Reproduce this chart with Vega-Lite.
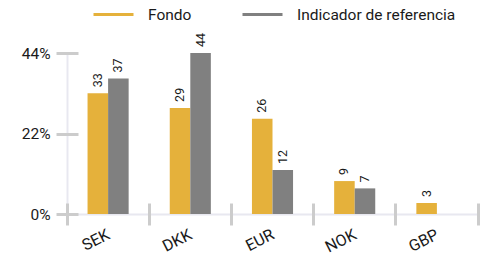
{
  "$schema": "https://vega.github.io/schema/vega-lite/v6.json",
  "width": 411,
  "height": 161,
  "autosize": "none",
  "padding": {"left": 67, "top": 53, "right": 14, "bottom": 41},
  "config": {
    "font": "Roboto",
    "view": {"stroke": null},
    "axis": {"labelFont": "Roboto", "labelColor": "#1a1a1a"},
    "legend": {"labelFont": "Roboto"}
  },
  "data": {
    "values": [
      {"cur": "SEK", "series": "Fondo", "v": 33},
      {"cur": "SEK", "series": "Indicador de referencia", "v": 37},
      {"cur": "DKK", "series": "Fondo", "v": 29},
      {"cur": "DKK", "series": "Indicador de referencia", "v": 44},
      {"cur": "EUR", "series": "Fondo", "v": 26},
      {"cur": "EUR", "series": "Indicador de referencia", "v": 12},
      {"cur": "NOK", "series": "Fondo", "v": 9},
      {"cur": "NOK", "series": "Indicador de referencia", "v": 7},
      {"cur": "GBP", "series": "Fondo", "v": 3}
    ]
  },
  "resolve": {"axis": {"x": "independent", "y": "independent"}},
  "layer": [
    {
      "mark": {"type": "bar"},
      "encoding": {
        "x": {
          "field": "cur", "type": "nominal",
          "sort": ["SEK", "DKK", "EUR", "NOK", "GBP"],
          "scale": {"paddingInner": 0, "paddingOuter": 0},
          "axis": {
            "orient": "bottom", "title": null,
            "bandPosition": 0, "offset": -11, "tickSize": 22, "tickWidth": 3, "tickColor": "#cccccc",
            "domain": false, "labelAngle": -27, "labelFontSize": 16, "labelPadding": 1, "labelOffset": -3,
            "grid": true, "gridColor": "#e8e8f0", "gridWidth": 2,
            "gridOpacity": {"condition": {"test": "datum.value === 'SEK'", "value": 1}, "value": 0}
          }
        },
        "xOffset": {
          "field": "series", "type": "nominal",
          "sort": ["Fondo", "Indicador de referencia"],
          "scale": {"paddingInner": 0, "paddingOuter": 1}
        },
        "y": {
          "field": "v", "type": "quantitative",
          "scale": {"domain": [0, 44], "nice": false},
          "axis": {
            "title": null, "values": [0, 22, 44], "labelExpr": "datum.value + '%'",
            "offset": -11, "tickSize": 22, "tickWidth": 3, "tickColor": "#cccccc",
            "domain": false, "labelFontSize": 15.5, "labelPadding": 6,
            "grid": true, "gridColor": "#e8e8f0", "gridWidth": 2,
            "gridOpacity": {"condition": {"test": "datum.value === 0", "value": 1}, "value": 0}
          }
        },
        "color": {
          "field": "series", "type": "nominal",
          "scale": {"domain": ["Fondo", "Indicador de referencia"], "range": ["#e5b13b", "#808080"]},
          "legend": {
            "orient": "none", "legendX": 25, "legendY": -60, "direction": "horizontal", "title": null,
            "symbolType": "stroke", "symbolSize": 1600, "symbolStrokeWidth": 3,
            "labelFontSize": 15.5, "labelColor": "#1a1a1a", "labelOffset": 13,
            "columnPadding": 44, "padding": 0,
            "encode": {"symbols": {"update": {"stroke": {"scale": "color", "field": "value"}, "strokeWidth": {"value": 3}}}}
          }
        }
      }
    },
    {
      "mark": {"type": "text", "angle": 270, "align": "left", "baseline": "middle", "dx": 6, "fontSize": 12.5, "color": "#1a1a1a"},
      "encoding": {
        "x": {
          "field": "cur", "type": "nominal",
          "sort": ["SEK", "DKK", "EUR", "NOK", "GBP"],
          "axis": {
            "orient": "bottom", "title": null, "labels": false, "domain": false,
            "bandPosition": 1, "offset": -11, "tickSize": 22, "tickWidth": 3, "tickColor": "#cccccc",
            "tickOpacity": {"condition": {"test": "datum.value === 'GBP'", "value": 1}, "value": 0}
          }
        },
        "xOffset": {"field": "series", "type": "nominal", "sort": ["Fondo", "Indicador de referencia"]},
        "y": {"field": "v", "type": "quantitative", "axis": null},
        "text": {"field": "v", "type": "quantitative"}
      }
    }
  ]
}
